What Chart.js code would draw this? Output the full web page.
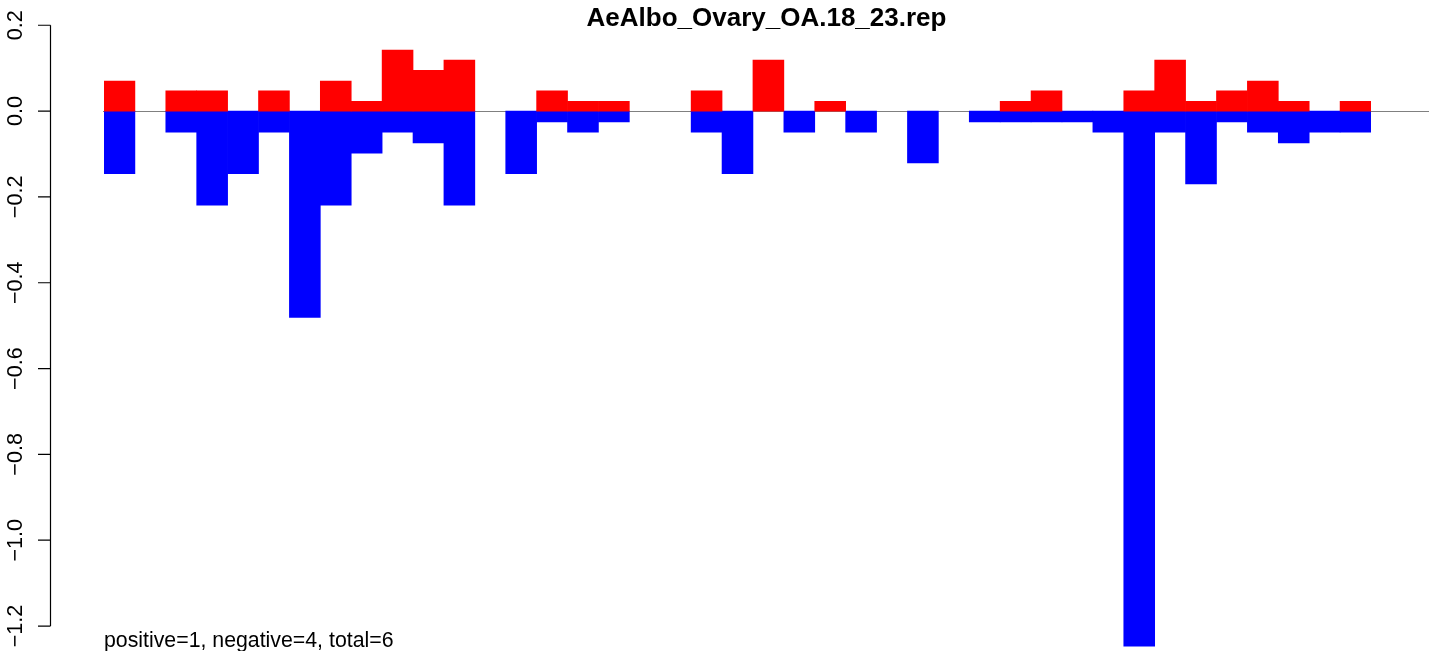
<!DOCTYPE html>
<html>
<head>
<meta charset="utf-8">
<script src="https://cdn.jsdelivr.net/npm/chart.js@4/dist/chart.umd.min.js"></script>
<style>
    html, body { margin: 0; padding: 0; background: #ffffff; }
    #wrap { width: 1429px; height: 651px; position: relative; }
</style>
</head>
<body>
<div id="wrap"><canvas id="repChart"></canvas></div>
<script>
const chartTitle = 'AeAlbo_Ovary_OA.18_23.rep';
const footNote = 'positive=1, negative=4, total=6';

const positions = Array.from({ length: 41 }, (_, i) => String(i + 1));

const positiveValues = [0.070, 0, 0.047, 0.047, 0, 0.047, 0, 0.070, 0.023, 0.142,
    0.095, 0.119, 0, 0, 0.047, 0.023, 0.023, 0, 0, 0.047,
    0, 0.119, 0, 0.023, 0, 0, 0, 0, 0, 0.023,
    0.047, 0, 0, 0.047, 0.119, 0.023, 0.047, 0.070, 0.023, 0,
    0.023];

const negativeValues = [-0.146, 0, -0.049, -0.219, -0.146, -0.049, -0.481, -0.219, -0.098, -0.049,
    -0.074, -0.219, 0, -0.146, -0.025, -0.049, -0.025, 0, 0, -0.049,
    -0.146, 0, -0.049, 0, -0.049, 0, -0.121, 0, -0.025, -0.025,
    -0.025, -0.025, -0.049, -1.247, -0.049, -0.170, -0.025, -0.049, -0.074, -0.049,
    -0.049];

const yTickValues = [0.2, 0.0, -0.2, -0.4, -0.6, -0.8, -1.0, -1.2];
const yTickLabels = ['0.2', '0.0', '\u22120.2', '\u22120.4', '\u22120.6', '\u22120.8', '\u22121.0', '\u22121.2'];

const fontFamily = '"Liberation Sans", Arial, Helvetica, sans-serif';

// zero-height bars would leave a hairline on the axis, so drop them
const noZero = arr => arr.map(v => (v === 0 ? null : v));

// R-style decorations: left axis, zero line, title and footnote
const baseGraphics = {
    id: 'baseGraphics',
    beforeDatasetsDraw(chart) {
        const ctx = chart.ctx;
        const zero = Math.round(chart.scales.y.getPixelForValue(0)) + 0.5;
        ctx.save();
        ctx.strokeStyle = '#808080';
        ctx.lineWidth = 1;
        ctx.beginPath();
        ctx.moveTo(103, zero);
        ctx.lineTo(chart.width, zero);
        ctx.stroke();
        ctx.restore();
    },
    afterDraw(chart) {
        const ctx = chart.ctx;
        const y = chart.scales.y;
        const axisX = 50.5;
        const top = y.getPixelForValue(yTickValues[0]);
        const bottom = y.getPixelForValue(yTickValues[yTickValues.length - 1]);
        ctx.save();
        ctx.strokeStyle = '#000000';
        ctx.lineWidth = 1.2;
        ctx.beginPath();
        ctx.moveTo(axisX, top);
        ctx.lineTo(axisX, bottom);
        yTickValues.forEach(v => {
            const py = y.getPixelForValue(v);
            ctx.moveTo(axisX, py);
            ctx.lineTo(38, py);
        });
        ctx.stroke();

        ctx.fillStyle = '#000000';
        ctx.font = '21.6px ' + fontFamily;
        ctx.textAlign = 'center';
        ctx.textBaseline = 'alphabetic';
        yTickValues.forEach((v, i) => {
            const py = y.getPixelForValue(v);
            ctx.save();
            ctx.translate(21.5, py);
            ctx.rotate(-Math.PI / 2);
            ctx.fillText(yTickLabels[i], 0, 0);
            ctx.restore();
        });

        ctx.font = 'bold 26px ' + fontFamily;
        ctx.fillText(chartTitle, 766.5, 25.5);

        ctx.font = '21.3px ' + fontFamily;
        ctx.textAlign = 'left';
        ctx.fillText(footNote, 104, 647);
        ctx.restore();
    }
};

const ctx = document.getElementById('repChart').getContext('2d');
new Chart(ctx, {
    type: 'bar',
    data: {
        labels: positions,
        datasets: [
            {
                label: 'positive',
                data: noZero(positiveValues),
                backgroundColor: '#ff0000',
                borderWidth: 0,
                barPercentage: 1,
                categoryPercentage: 1
            },
            {
                label: 'negative',
                data: noZero(negativeValues),
                backgroundColor: '#0000ff',
                borderWidth: 0,
                barPercentage: 1,
                categoryPercentage: 1
            }
        ]
    },
    options: {
        responsive: true,
        maintainAspectRatio: false,
        animation: false,
        layout: {
            padding: { left: 104, right: 58, top: 3.8, bottom: 3.5 }
        },
        scales: {
            x: {
                display: false,
                stacked: true
            },
            y: {
                display: false,
                stacked: true,
                min: -1.25,
                max: 0.25
            }
        },
        plugins: {
            legend: { display: false },
            tooltip: { enabled: false },
            title: { display: false }
        }
    },
    plugins: [baseGraphics]
});
</script>
</body>
</html>
